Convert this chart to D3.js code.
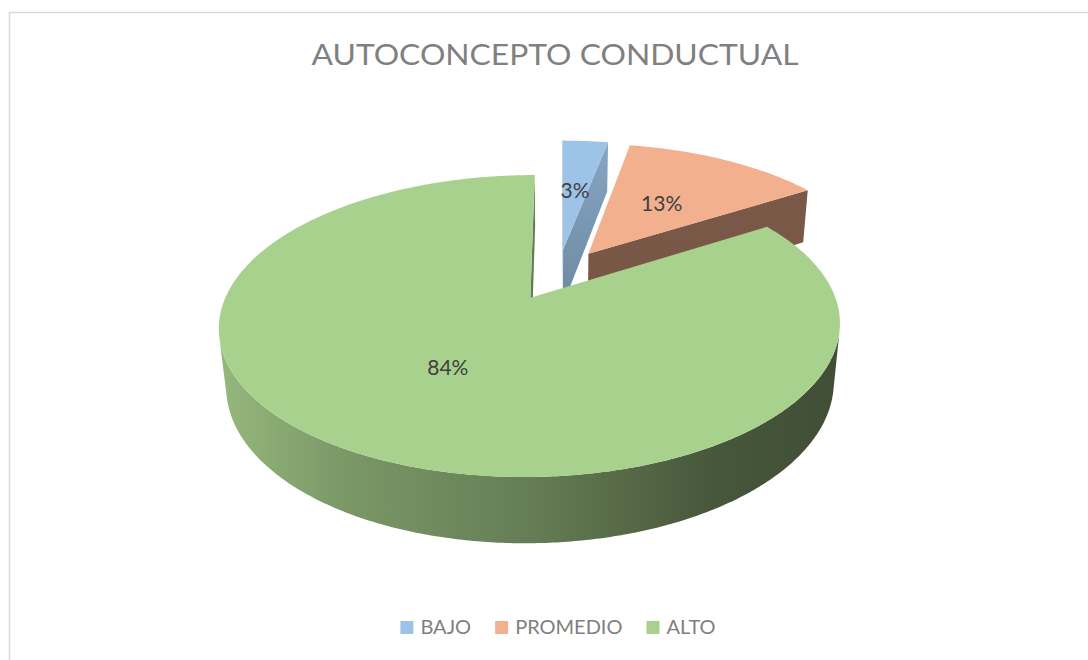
<!DOCTYPE html>
<html>
<head>
<meta charset="utf-8">
<script src="https://cdn.jsdelivr.net/npm/d3@7"></script>
<style>
  body { margin: 0; background: #fff; }
  svg { display: block; font-family: Lato, "Open Sans", sans-serif; }
</style>
</head>
<body>
<div id="chart"></div>
<script>
var title = "AUTOCONCEPTO CONDUCTUAL";
var categories = ["BAJO", "PROMEDIO", "ALTO"];
var values = [3, 13, 84];
var colors = ["#9dc3e6", "#f2b08f", "#a9d18e"];

var width = 1088, height = 660;

// camera looking down at the pie (pie radius = 1 world unit)
var cx = 558, cy = 274.5, focal = 1444, dist = 4.88;
var tilt = 27.6 * Math.PI / 180;
var explode = 0.188, thick = 0.2207;
var sinT = Math.sin(tilt), cosT = Math.cos(tilt);

// shading (d3 "darker" steps) for the cut faces, top -> bottom
var cutShade = [[0.45, 1.0], [1.9, 2.0], [1.4, 1.6]];
// shading across the outer wall, left -> right
var wallShade = [[0, 0.35], [0.2, 0.9], [0.5, 1.45], [0.8, 2.45], [1, 2.75]];

function project(x, y, z) {
    var yc = y * cosT + z * sinT;
    var zc = dist - y * sinT + z * cosT;
    return [cx + focal * x / zc, cy - focal * yc / zc, zc];
}

var svg = d3.select("#chart").append("svg")
    .attr("width", width)
    .attr("height", height);
var defs = svg.append("defs");

svg.append("rect")
    .attr("x", 9.5).attr("y", 12.5)
    .attr("width", 1100).attr("height", 700)
    .attr("fill", "#fff")
    .attr("stroke", "#d9d9d9")
    .attr("stroke-width", 1.5);

var titleText = svg.append("text")
    .attr("x", 555).attr("y", 65)
    .attr("text-anchor", "middle")
    .attr("font-size", 28)
    .attr("fill", "#808080")
    .text(title);
titleText.attr("textLength", 487).attr("lengthAdjust", "spacingAndGlyphs");

var total = d3.sum(values);
var fmt = d3.format(".0%");
var arcs = d3.pie().sort(null).value(function(d){ return d; })(values);

var slices = arcs.map(function(p, i){
    var mid = (p.startAngle + p.endAngle) / 2;
    return {
        i: i,
        a0: p.startAngle,
        a1: p.endAngle,
        mid: mid,
        ox: explode * Math.sin(mid),
        oz: explode * Math.cos(mid),
        color: colors[i],
        label: fmt(p.value / total)
    };
});

function rim(s, a, y) { return project(s.ox + Math.sin(a), y, s.oz + Math.cos(a)); }
function hub(s, y) { return project(s.ox, y, s.oz); }
function arcPts(s, a0, a1, y) {
    var n = Math.max(2, Math.ceil((a1 - a0) / 0.01));
    return d3.range(n + 1).map(function(k){ return rim(s, a0 + (a1 - a0) * k / n, y); });
}
var line = d3.line().x(function(d){ return d[0]; }).y(function(d){ return d[1]; });
function poly(pts) { return line(pts) + "Z"; }

// which part of the outer wall faces the camera
function wallVisible(s, a) {
    return -s.ox * Math.sin(a) - s.oz * Math.cos(a) - 1 - dist * cosT * Math.cos(a) > 0;
}

// ---- cut faces (the flat sides left by the explosion)
var faces = [];
slices.forEach(function(s){
    var camX = -s.ox, camZ = -dist * cosT - s.oz;
    [[s.a0, -1], [s.a1, 1]].forEach(function(e){
        var a = e[0];
        var nx = e[1] * Math.cos(a), nz = -e[1] * Math.sin(a);
        if (camX * nx + camZ * nz <= 0) return;
        var pts = [hub(s, 0), rim(s, a, 0), rim(s, a, -thick), hub(s, -thick)];
        faces.push({ s: s, pts: pts, depth: d3.mean(pts, function(p){ return p[2]; }) });
    });
});
faces.sort(function(a, b){ return b.depth - a.depth; });

faces.forEach(function(f, k){
    var id = "cut" + k;
    var g = defs.append("linearGradient").attr("id", id)
        .attr("x1", 0).attr("y1", 0).attr("x2", 0).attr("y2", 1);
    g.append("stop").attr("offset", 0).attr("stop-color", d3.color(f.s.color).darker(cutShade[f.s.i][0]));
    g.append("stop").attr("offset", 1).attr("stop-color", d3.color(f.s.color).darker(cutShade[f.s.i][1]));
    svg.append("path")
        .attr("d", poly(f.pts))
        .attr("fill", "url(#" + id + ")");
});

// ---- outer walls
var walls = [];
slices.forEach(function(s){
    var n = Math.ceil((s.a1 - s.a0) / 0.005);
    var run = null;
    for (var k = 0; k <= n; k++) {
        var a = s.a0 + (s.a1 - s.a0) * k / n;
        if (wallVisible(s, a)) {
            if (!run) { run = [a, a]; walls.push({ s: s, run: run }); }
            run[1] = a;
        } else run = null;
    }
});
var wallX = [];
walls.forEach(function(w){
    w.top = arcPts(w.s, w.run[0], w.run[1], 0);
    w.bot = arcPts(w.s, w.run[0], w.run[1], -thick).reverse();
    w.top.concat(w.bot).forEach(function(p){ wallX.push(p[0]); });
});
var wx = d3.extent(wallX);
walls.forEach(function(w, k){
    var id = "wall" + k;
    var g = defs.append("linearGradient").attr("id", id)
        .attr("gradientUnits", "userSpaceOnUse")
        .attr("x1", wx[0]).attr("y1", 0).attr("x2", wx[1]).attr("y2", 0);
    wallShade.forEach(function(st){
        g.append("stop").attr("offset", st[0]).attr("stop-color", d3.color(w.s.color).darker(st[1]));
    });
    svg.append("path")
        .attr("d", poly(w.top.concat(w.bot)))
        .attr("fill", "url(#" + id + ")");
});

// ---- top faces
slices.forEach(function(s){
    svg.append("path")
        .attr("d", poly([hub(s, 0)].concat(arcPts(s, s.a0, s.a1, 0))))
        .attr("fill", s.color);
});

// ---- data labels, halfway out along each slice
slices.forEach(function(s){
    var p = project(s.ox + 0.5 * Math.sin(s.mid), 0, s.oz + 0.5 * Math.cos(s.mid));
    svg.append("text")
        .attr("x", p[0]).attr("y", p[1])
        .attr("text-anchor", "middle")
        .attr("dy", "0.35em")
        .attr("font-size", 21)
        .attr("fill", "#404040")
        .text(s.label);
});

// ---- legend
var legend = svg.append("g").attr("class", "legend");
var items = legend.selectAll("g").data(categories).enter().append("g");
items.append("rect")
    .attr("width", 13).attr("height", 13)
    .attr("y", -13)
    .attr("fill", function(d, i){ return colors[i]; });
items.append("text")
    .attr("x", 20)
    .attr("font-size", 20)
    .attr("fill", "#7f7f7f")
    .text(function(d){ return d; });
var xpos = 0, offs = [];
items.each(function(){
    offs.push(xpos);
    xpos += 20 + this.querySelector("text").getComputedTextLength() + 24;
});
xpos -= 24;
items.attr("transform", function(d, i){ return "translate(" + offs[i] + ",0)"; });
legend.attr("transform", "translate(" + (558 - xpos / 2) + ",634)");
</script>
</body>
</html>
